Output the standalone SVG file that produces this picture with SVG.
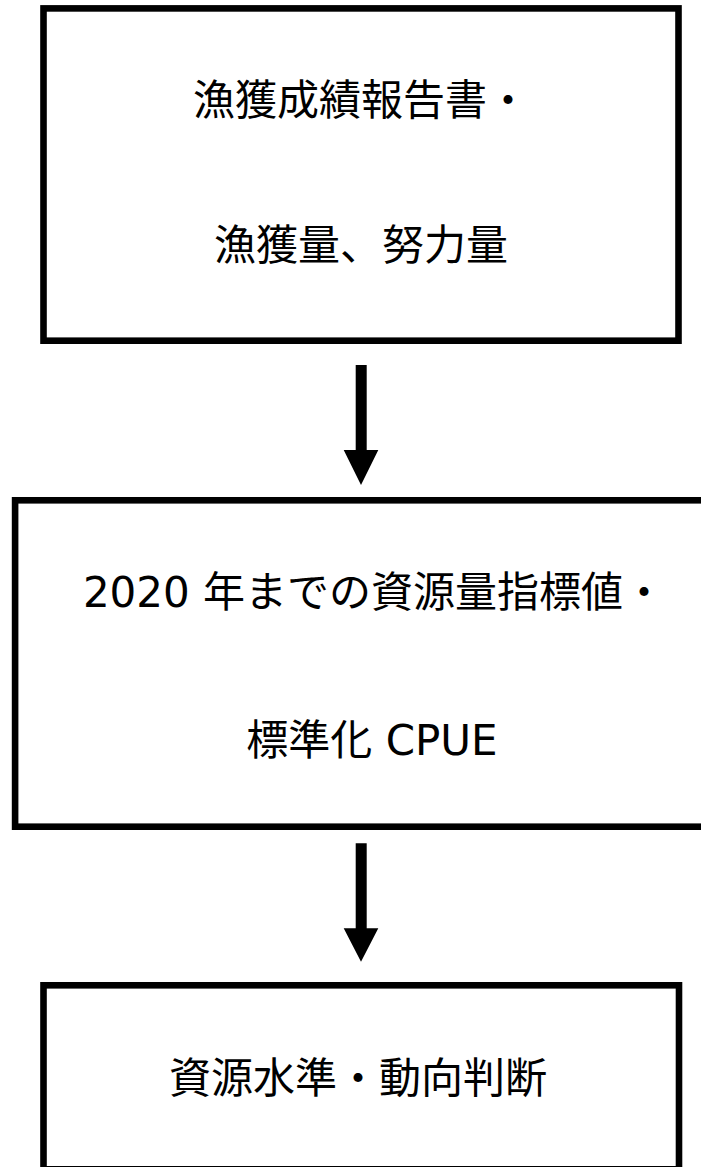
<svg xmlns="http://www.w3.org/2000/svg" width="701" height="1167" viewBox="0 0 701 1167">
<style>
.box{fill:#fff;stroke:#000;stroke-width:6.6}
.t{font-family:"DejaVu Sans","Noto Sans CJK JP",sans-serif;font-size:42px;fill:#000;text-anchor:middle}
.arr{fill:#000}
</style>
<rect width="701" height="1167" fill="#fff"/>
<g id="node1">
<rect class="box" x="43.5" y="8.4" width="635" height="332.3"/>
<text class="t" x="361" y="115">漁獲成績報告書・</text>
<text class="t" x="361" y="260">漁獲量、努力量</text>
</g>
<g id="node2">
<rect class="box" x="15.1" y="500.3" width="700" height="326.4"/>
<text class="t" x="374" y="607">2020 年までの資源量指標値・</text>
<text class="t" x="372" y="755">標準化 CPUE</text>
</g>
<g id="node3">
<rect class="box" x="43.5" y="985.3" width="635.5" height="184"/>
<text class="t" x="358" y="1093">資源水準・動向判断</text>
</g>
<g id="connectors">
<polygon class="arr" points="355.7,365 366.7,365 366.7,450 378.3,450 361,485 343.7,450 355.7,450"/>
<polygon class="arr" points="355.7,843.3 366.7,843.3 366.7,928.3 378.3,928.3 361,961.7 343.7,928.3 355.7,928.3"/>
</g>
</svg>
